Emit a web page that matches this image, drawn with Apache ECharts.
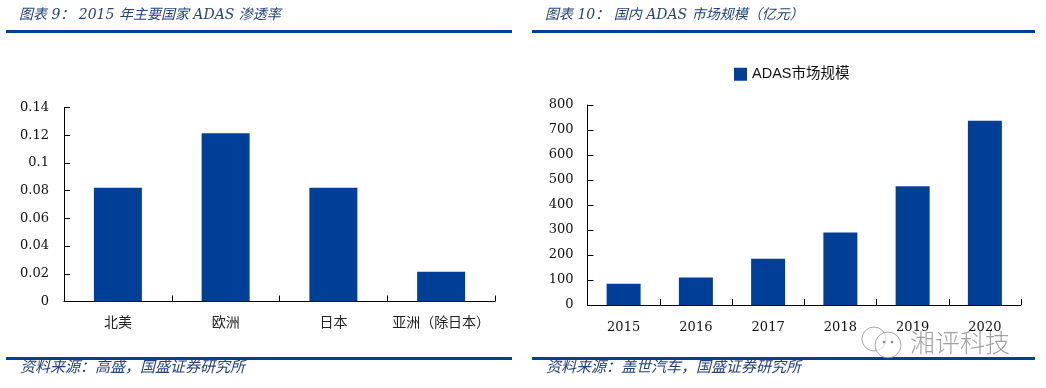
<!DOCTYPE html>
<html><head><meta charset="utf-8">
<style>html,body{margin:0;padding:0;background:#fff}#c{width:1046px;height:388px}</style>
<script src="https://cdn.jsdelivr.net/npm/echarts@6/dist/echarts.min.js"></script></head>
<body><div id="c"></div>
<script>
const regions = ['北美','欧洲','日本','亚洲\uFF08除日本\uFF09'];
const penetration = [0.082,0.1215,0.082,0.0215];
const years = ['2015','2016','2017','2018','2019','2020'];
const marketSize = [85,110,185,290,475,737];
const penetrationTicks = {min:0,max:0.14,interval:0.02};
const marketTicks = {min:0,max:800,interval:100};
const titleLeft = '图表 9\uFF1A 2015 年主要国家 ADAS 渗透率';
const titleRight = '图表 10\uFF1A 国内 ADAS 市场规模\uFF08亿元\uFF09';
const sourceLeft = '资料来源\uFF1A高盛\uFF0C国盛证券研究所';
const sourceRight = '资料来源\uFF1A盖世汽车\uFF0C国盛证券研究所';
const seriesName = 'ADAS市场规模';
const watermark = '湘评科技';

const BLUE = '#003f98';
const NUM = '"DejaVu Serif","Noto Sans CJK SC",serif';
const CJK = '"DejaVu Serif","Noto Sans CJK SC",sans-serif';
function axisStyle(){return {lineStyle:{color:'#000',width:1}};}
function title(text,left,top,size){return {text,left,top,padding:0,textStyle:{fontFamily:CJK,fontStyle:'italic',fontWeight:'normal',fontSize:size,color:'#24437f'}};}
function rule(x,y,w){return {type:'rect',shape:{x,y,width:w,height:3},style:{fill:BLUE},silent:true};}

const chart = echarts.init(document.getElementById('c'),null,{renderer:'canvas'});
chart.setOption({
  animation:false,
  backgroundColor:'#fff',
  title:[title(titleLeft,19,8,14),title(titleRight,545,8,14),title(sourceLeft,20,361,15),title(sourceRight,546,361,15)],
  legend:{data:[seriesName],left:734,top:67,padding:0,itemWidth:13,itemHeight:13,itemGap:2,icon:'rect',textStyle:{fontFamily:'"Liberation Sans","Noto Sans CJK SC",sans-serif',fontSize:14.5,color:'#111'}},
  grid:[
    {left:64,right:551,top:107.5,height:194},
    {left:587.5,right:25,top:105,height:200}
  ],
  xAxis:[
    {type:'category',gridIndex:0,data:regions,axisLine:axisStyle(),axisTick:{show:true,inside:true,length:6,lineStyle:{color:'#000'}},axisLabel:{fontFamily:'"Noto Sans CJK SC",sans-serif',fontSize:14,color:'#222',margin:13,interval:0}},
    {type:'category',gridIndex:1,data:years,axisLine:axisStyle(),axisTick:{show:true,inside:true,length:6,lineStyle:{color:'#000'}},axisLabel:{fontFamily:NUM,fontSize:13,color:'#111',margin:16,interval:0}}
  ],
  yAxis:[
    {type:'value',gridIndex:0,min:penetrationTicks.min,max:penetrationTicks.max,interval:penetrationTicks.interval,splitLine:{show:false},axisLine:{show:true,lineStyle:{color:'#000'}},axisTick:{show:true,inside:true,length:6,lineStyle:{color:'#000'}},axisLabel:{fontFamily:NUM,fontSize:13,color:'#111',margin:15,formatter:v=>String(+v.toFixed(2))}},
    {type:'value',gridIndex:1,min:marketTicks.min,max:marketTicks.max,interval:marketTicks.interval,splitLine:{show:false},axisLine:{show:true,lineStyle:{color:'#000'}},axisTick:{show:true,inside:true,length:6,lineStyle:{color:'#000'}},axisLabel:{fontFamily:NUM,fontSize:13,color:'#111',margin:14}}
  ],
  series:[
    {type:'bar',name:'渗透率',xAxisIndex:0,yAxisIndex:0,data:penetration,barWidth:48,itemStyle:{color:BLUE}},
    {type:'bar',name:seriesName,xAxisIndex:1,yAxisIndex:1,data:marketSize,barWidth:34,itemStyle:{color:BLUE}}
  ],
  graphic:[
    rule(6,30,506),rule(532,30,503),rule(6,357,506),rule(532,357,503),
    {type:'text',left:910,top:330,z:10,silent:true,style:{text:watermark,fontFamily:'"Noto Sans CJK SC",sans-serif',fontWeight:300,fontSize:25,fill:'rgba(120,120,120,0.7)'}},
    {type:'circle',z:10,silent:true,shape:{cx:888,cy:345,r:13},style:{fill:'rgba(255,255,255,0.6)',stroke:'rgba(130,130,130,0.7)',lineWidth:1}},
    {type:'circle',z:9,silent:true,shape:{cx:874,cy:339,r:12},style:{fill:'rgba(255,255,255,0.6)',stroke:'rgba(130,130,130,0.7)',lineWidth:1}},
    {type:'circle',z:11,silent:true,shape:{cx:884,cy:342,r:1.3},style:{fill:'rgba(110,110,110,0.8)'}},
    {type:'circle',z:11,silent:true,shape:{cx:892,cy:342,r:1.3},style:{fill:'rgba(110,110,110,0.8)'}}
  ]
});
</script></body></html>
